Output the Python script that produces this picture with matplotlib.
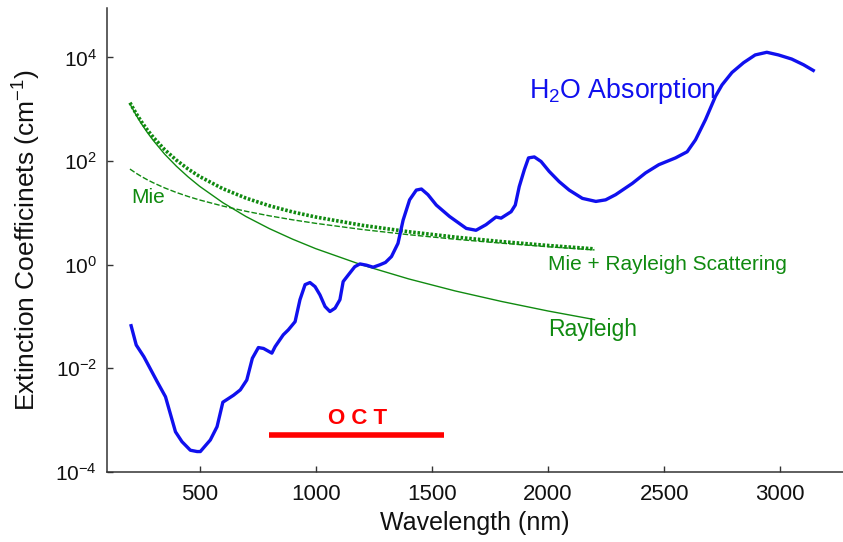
import matplotlib
matplotlib.use("Agg")
import matplotlib.pyplot as plt

plt.rcParams['font.family'] = ['Liberation Sans', 'DejaVu Sans']
plt.rcParams['mathtext.fontset'] = 'custom'
plt.rcParams['mathtext.rm'] = 'Liberation Sans'
plt.rcParams['mathtext.it'] = 'Liberation Sans:italic'
plt.rcParams['mathtext.bf'] = 'Liberation Sans:bold'

# H2O absorption (cm^-1)
water_wl = [205, 227, 260, 317, 353, 396, 424, 460, 489, 503, 546, 575, 600, 646, 675,
            703, 727, 753, 775, 811, 825, 860, 882, 911, 932, 954, 975, 997, 1018, 1040,
            1061, 1083, 1104, 1118, 1140, 1168, 1190, 1218, 1247, 1276, 1300, 1326, 1354,
            1376, 1404, 1433, 1455, 1483, 1519, 1576, 1648, 1690, 1733, 1776, 1798, 1841,
            1859, 1876, 1898, 1916, 1941, 1970, 2005, 2048, 2091, 2148, 2206, 2248, 2291,
            2363, 2420, 2477, 2549, 2599, 2635, 2678, 2721, 2749, 2792, 2842, 2892, 2942,
            2992, 3049, 3100, 3142]
water_mu = [0.066, 0.028, 0.0166, 0.0055, 0.0028, 5.9e-4, 3.8e-4, 2.6e-4, 2.45e-4, 2.45e-4,
            4.1e-4, 7.4e-4, 2.2e-3, 3.0e-3, 3.8e-3, 5.9e-3, 0.0155, 0.025, 0.024, 0.0195,
            0.026, 0.044, 0.055, 0.079, 0.21, 0.41, 0.45, 0.375, 0.26, 0.155, 0.124, 0.144,
            0.21, 0.47, 0.63, 0.91, 1.03, 0.975, 0.89, 0.99, 1.1, 1.43, 2.57, 7.2, 17.8,
            27.5, 28.8, 22.4, 14.1, 8.5, 5.0, 4.6, 5.9, 8.3, 7.9, 10.5, 14.1, 32, 68, 115,
            120, 98, 63, 40, 27.5, 19, 16.6, 17.8, 22.4, 37, 59, 85, 115, 151, 257, 631,
            1780, 2950, 5130, 7940, 11200, 12600, 11200, 9330, 7240, 5620]

# Scattering curves (cm^-1)
scat_wl = [200, 225, 250, 275, 300, 350, 400, 450, 500, 600, 700, 800, 900, 1000,
           1200, 1400, 1600, 1800, 2000, 2200]
rayleigh = [1270, 793, 520, 355, 251, 135, 79.4, 49.6, 32.5, 15.7, 8.46, 4.96, 3.10,
            2.03, 0.98, 0.529, 0.310, 0.194, 0.127, 0.0867]
mie = [70, 58.7, 50.1, 43.4, 38.1, 30.2, 24.7, 20.7, 17.7, 13.5, 10.7, 8.75, 7.33,
       6.26, 4.76, 3.78, 3.09, 2.59, 2.21, 1.92]
mie_rayleigh = [1340, 852, 570, 398, 289, 165, 104, 70.3, 50.2, 29.2, 19.2, 13.7, 10.4,
                8.29, 5.74, 4.31, 3.40, 2.78, 2.34, 2.01]

oct_range = [800, 1550]
oct_level = 5.1e-4

x_ticks = [500, 1000, 1500, 2000, 2500, 3000]
y_ticks = [1e-4, 1e-2, 1e0, 1e2, 1e4]
y_ticklabels = ['$10^{-4}$', '$10^{-2}$', '$10^{0}$', '$10^{2}$', '$10^{4}$']

fig = plt.figure(figsize=(8.43, 5.42), dpi=100)
ax = fig.add_axes([0.1266, 0.1297, 0.8734, 0.855])

green = '#108a10'
ax.plot(scat_wl, rayleigh, color=green, lw=1.0)
ax.plot(scat_wl, mie, color=green, lw=1.0, linestyle=(0, (4, 1.5)))
ax.plot(scat_wl, mie_rayleigh, color=green, lw=2.6, linestyle=(0, (0.7, 0.5)))
ax.plot(water_wl, water_mu, color='#1010ee', lw=2.4, solid_joinstyle='round')
ax.plot(oct_range, [oct_level, oct_level], color='#ff0000', lw=4, solid_capstyle='butt')

ax.set_yscale('log')
ax.set_xlim(100, 3270)
ax.set_ylim(1e-4, 10**4.95)
ax.set_xticks(x_ticks)
ax.set_xticklabels([str(v) for v in x_ticks])
ax.set_yticks(y_ticks)
ax.set_yticklabels(y_ticklabels)
ax.minorticks_off()

for s in ['top', 'right']:
    ax.spines[s].set_visible(False)
for s in ['left', 'bottom']:
    ax.spines[s].set_color('#333333')
    ax.spines[s].set_linewidth(1.1)

ax.tick_params(axis='both', direction='in', length=4.5, width=1.0, color='#333333',
               labelcolor='#111111')
ax.tick_params(axis='x', pad=9, labelsize=16)
ax.tick_params(axis='y', pad=7, labelsize=15)

ax.set_xlabel('Wavelength (nm)', fontsize=18, color='#111111', labelpad=4)
ax.set_ylabel('Extinction Coefficinets (cm$^{-1}$)', fontsize=19, color='#111111', labelpad=9)

ax.text(1920, 2300, 'H$_2$O Absorption', color='#1010ee', fontsize=19.3, ha='left', va='center')
ax.text(205, 19.5, 'Mie', color=green, fontsize=15, ha='left', va='center')
ax.text(2000, 1.0, 'Mie + Rayleigh Scattering', color=green, fontsize=15, ha='left', va='center')
ax.text(2000, 0.055, 'Rayleigh', color=green, fontsize=16.5, ha='left', va='center')
ax.text(1180, 1.05e-3, 'O C T', color='#ff0000', fontsize=16, fontweight='bold',
        ha='center', va='center')

fig.savefig('out.png', dpi=100)
